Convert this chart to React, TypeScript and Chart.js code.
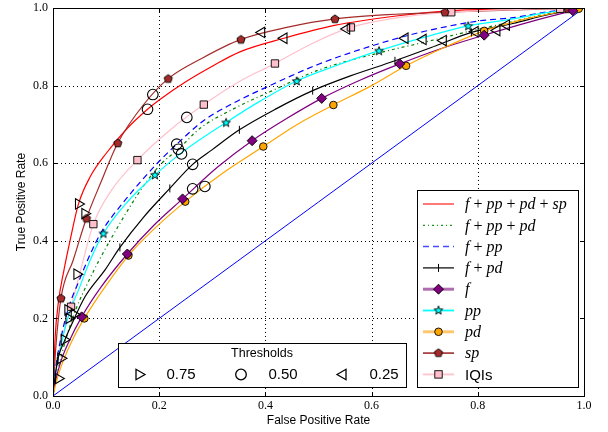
import React, { useEffect, useRef } from 'react';
import { Chart, registerables } from 'chart.js';
Chart.register(...registerables);

// ---- ROC curves (False Positive Rate, True Positive Rate) ----
const fppdspX = [0, 0.004, 0.01, 0.02, 0.032, 0.048, 0.07, 0.1, 0.14, 0.178, 0.2, 0.25, 0.3, 0.352, 0.435, 0.53, 0.65, 0.75, 0.85, 1];
const fppdspY = [0, 0.15, 0.24, 0.32, 0.4, 0.495, 0.565, 0.625, 0.69, 0.739, 0.763, 0.81, 0.85, 0.887, 0.922, 0.955, 0.98, 0.993, 0.998, 1];

const fppdX = [0, 0.01, 0.025, 0.045, 0.065, 0.085, 0.107, 0.145, 0.175, 0.205, 0.236, 0.277, 0.34, 0.41, 0.5, 0.616, 0.7, 0.8, 0.866, 0.93, 1];
const fppdY = [0, 0.07, 0.15, 0.23, 0.29, 0.345, 0.4, 0.488, 0.55, 0.6, 0.636, 0.69, 0.74, 0.785, 0.84, 0.885, 0.912, 0.945, 0.965, 0.985, 1];

const fppX = [0, 0.005, 0.015, 0.03, 0.05, 0.07, 0.09, 0.13, 0.17, 0.2, 0.233, 0.284, 0.34, 0.402, 0.5, 0.616, 0.7, 0.804, 0.866, 0.93, 1];
const fppY = [0, 0.07, 0.15, 0.23, 0.3, 0.365, 0.42, 0.495, 0.56, 0.605, 0.649, 0.71, 0.755, 0.796, 0.855, 0.909, 0.94, 0.967, 0.975, 0.99, 1];

const fpdX = [0, 0.004, 0.01, 0.021, 0.032, 0.06, 0.098, 0.126, 0.17, 0.22, 0.263, 0.3, 0.351, 0.42, 0.489, 0.56, 0.644, 0.72, 0.788, 0.866, 0.93, 1];
const fpdY = [0, 0.05, 0.1, 0.14, 0.175, 0.255, 0.325, 0.383, 0.46, 0.535, 0.597, 0.635, 0.686, 0.74, 0.787, 0.825, 0.864, 0.902, 0.937, 0.96, 0.982, 1];

const fX = [0, 0.005, 0.015, 0.03, 0.054, 0.09, 0.14, 0.19, 0.244, 0.31, 0.375, 0.44, 0.506, 0.58, 0.653, 0.73, 0.812, 0.9, 0.979, 1];
const fY = [0, 0.04, 0.09, 0.14, 0.204, 0.28, 0.366, 0.44, 0.508, 0.59, 0.658, 0.715, 0.767, 0.815, 0.856, 0.895, 0.93, 0.965, 0.993, 1];

const ppX = [0, 0.005, 0.015, 0.03, 0.05, 0.07, 0.095, 0.14, 0.192, 0.25, 0.326, 0.39, 0.459, 0.53, 0.614, 0.7, 0.782, 0.866, 0.93, 1];
const ppY = [0, 0.06, 0.13, 0.21, 0.28, 0.35, 0.419, 0.5, 0.57, 0.635, 0.705, 0.76, 0.812, 0.85, 0.89, 0.925, 0.954, 0.972, 0.988, 1];

const pdX = [0, 0.005, 0.015, 0.035, 0.059, 0.1, 0.142, 0.19, 0.249, 0.32, 0.396, 0.46, 0.528, 0.6, 0.665, 0.74, 0.812, 0.9, 0.99, 1];
const pdY = [0, 0.03, 0.075, 0.14, 0.2, 0.285, 0.362, 0.43, 0.501, 0.575, 0.643, 0.7, 0.75, 0.8, 0.851, 0.9, 0.941, 0.975, 0.998, 1];

const spX = [0, 0.005, 0.015, 0.038, 0.063, 0.09, 0.122, 0.17, 0.217, 0.28, 0.354, 0.44, 0.531, 0.63, 0.738, 0.87, 1];
const spY = [0, 0.12, 0.252, 0.35, 0.458, 0.55, 0.652, 0.75, 0.818, 0.87, 0.919, 0.95, 0.972, 0.983, 0.989, 0.995, 1];

const iqiX = [0, 0.008, 0.02, 0.034, 0.055, 0.076, 0.11, 0.159, 0.22, 0.284, 0.35, 0.418, 0.49, 0.561, 0.65, 0.75, 0.87, 1];
const iqiY = [0, 0.09, 0.165, 0.23, 0.34, 0.443, 0.53, 0.608, 0.685, 0.751, 0.81, 0.857, 0.91, 0.95, 0.975, 0.989, 0.996, 1];

// ---- marker positions along each curve ----
const fpdMarkX = [0.008, 0.126, 0.22, 0.351, 0.489, 0.644, 0.788];
const fpdMarkY = [0.09, 0.383, 0.535, 0.686, 0.787, 0.864, 0.937];
const fMarkX = [0.054, 0.14, 0.244, 0.375, 0.506, 0.653, 0.812, 0.979];
const fMarkY = [0.204, 0.366, 0.508, 0.658, 0.767, 0.856, 0.93, 0.993];
const ppMarkX = [0.095, 0.192, 0.326, 0.459, 0.614, 0.782];
const ppMarkY = [0.419, 0.57, 0.705, 0.812, 0.89, 0.954];
const pdMarkX = [0.059, 0.142, 0.249, 0.396, 0.528, 0.665, 0.812, 0.99];
const pdMarkY = [0.2, 0.362, 0.501, 0.643, 0.75, 0.851, 0.941, 0.998];
const spMarkX = [0.015, 0.063, 0.122, 0.217, 0.354, 0.531, 0.738, 0.97];
const spMarkY = [0.252, 0.458, 0.652, 0.818, 0.919, 0.972, 0.989, 0.998];
const iqiMarkX = [0.034, 0.076, 0.159, 0.284, 0.418, 0.561, 0.75, 0.955];
const iqiMarkY = [0.23, 0.443, 0.608, 0.751, 0.857, 0.95, 0.989, 0.998];

// ---- threshold operating points (order: f+pp+pd+sp, f+pp+pd, f+pp, f+pd, f, pp, pd, sp, IQIs) ----
const thr75X = [0.048, 0.04, 0.028, 0.021, 0.015, 0.03, 0.01, 0.06, 0.045];
const thr75Y = [0.495, 0.21, 0.222, 0.145, 0.097, 0.2, 0.045, 0.47, 0.314];
const thr50X = [0.178, 0.236, 0.233, 0.263, 0.263, 0.242, 0.286, 0.188, 0.252];
const thr50Y = [0.739, 0.636, 0.649, 0.597, 0.534, 0.624, 0.54, 0.777, 0.718];
const thr25X = [0.435, 0.735, 0.663, 0.795, 0.836, 0.697, 0.854, 0.393, 0.553];
const thr25Y = [0.922, 0.916, 0.922, 0.939, 0.942, 0.919, 0.956, 0.937, 0.946];

const diagX = [0, 1];
const diagY = [0, 1];

const axisTicks = [0, 0.2, 0.4, 0.6, 0.8, 1.0];
const thresholdLabels = ['0.75', '0.50', '0.25'];

const pts = (xs: number[], ys: number[]) => xs.map((x, i) => ({ x, y: ys[i] }));

function makeMarker(kind: 'pentagon' | 'star', fill: string) {
  const c = document.createElement('canvas');
  c.width = 12; c.height = 12;
  const g = c.getContext('2d')!;
  g.beginPath();
  if (kind === 'pentagon') {
    for (let i = 0; i < 5; i++) {
      const a = -Math.PI / 2 + i * 2 * Math.PI / 5;
      const px = 6 + Math.cos(a) * 4.3, py = 6.3 + Math.sin(a) * 4.3;
      i ? g.lineTo(px, py) : g.moveTo(px, py);
    }
  } else {
    for (let i = 0; i < 10; i++) {
      const a = -Math.PI / 2 + i * Math.PI / 5;
      const r = i % 2 ? 1.9 : 4.6;
      const px = 6 + Math.cos(a) * r, py = 6.4 + Math.sin(a) * r;
      i ? g.lineTo(px, py) : g.moveTo(px, py);
    }
  }
  g.closePath();
  g.fillStyle = fill; g.fill();
  g.strokeStyle = '#000'; g.lineWidth = 0.9; g.stroke();
  return c;
}

export default function App() {
  const ref = useRef<HTMLCanvasElement>(null);
  useEffect(() => {
    const canvas = ref.current!;
    const pent = makeMarker('pentagon', '#a52a2a');
    const star = makeMarker('star', '#00ffff');

    const line = (xs: number[], ys: number[], color: string, extra: any = {}) => ({
      data: pts(xs, ys), showLine: true, borderColor: color, borderWidth: 1.2,
      pointRadius: 0, cubicInterpolationMode: 'monotone', order: 5, ...extra,
    });
    const marks = (xs: number[], ys: number[], style: any, fill: string, radius: number, extra: any = {}) => ({
      data: pts(xs, ys), showLine: false, pointStyle: style, pointRadius: radius,
      pointBackgroundColor: fill, pointBorderColor: '#000', pointBorderWidth: 0.9, order: 3, ...extra,
    });
    const hollow = (xs: number[], ys: number[], style: string, rot: number, r: number) => ({
      data: pts(xs, ys), showLine: false, pointStyle: style, pointRotation: rot, pointRadius: r,
      pointBackgroundColor: 'rgba(0,0,0,0)', pointBorderColor: '#000', pointBorderWidth: 1.1, order: 1,
    });

    const datasets: any[] = [
      line(diagX, diagY, '#0000ff', { borderWidth: 1, cubicInterpolationMode: 'default', order: 9 }),
      line(pdX, pdY, '#ffa500'),
      line(fX, fY, '#800080'),
      line(fpdX, fpdY, '#000000'),
      line(ppX, ppY, '#00ffff'),
      line(fppdX, fppdY, '#008000', { borderDash: [3, 3, 1, 3] }),
      line(fppX, fppY, '#0000ff', { borderDash: [6, 4] }),
      line(iqiX, iqiY, '#ffc0cb'),
      line(spX, spY, '#a52a2a'),
      line(fppdspX, fppdspY, '#ff0000'),
      marks(fpdMarkX, fpdMarkY, 'line', '#000', 4, { pointRotation: 90, pointBorderWidth: 1 }),
      marks(fMarkX, fMarkY, 'rectRot', '#800080', 5),
      marks(ppMarkX, ppMarkY, star, '#00ffff', 5),
      marks(pdMarkX, pdMarkY, 'circle', '#ffa500', 3.8),
      marks(spMarkX, spMarkY, pent, '#a52a2a', 5),
      marks(iqiMarkX, iqiMarkY, 'rect', '#ffc0cb', 5.2),
      hollow(thr75X, thr75Y, 'triangle', 90, 6),
      hollow(thr50X, thr50Y, 'circle', 0, 5.3),
      hollow(thr25X, thr25Y, 'triangle', -90, 6),
    ];

    const legendItems: any[] = [
      { color: '#ff3030', width: 1.3, label: [['f', 1], [' + ', 0], ['pp', 1], [' + ', 0], ['pd', 1], [' + ', 0], ['sp', 1]] },
      { color: '#1a9a1a', width: 1.3, dash: [2, 3, 1, 3], label: [['f', 1], [' + ', 0], ['pp', 1], [' + ', 0], ['pd', 1]] },
      { color: '#4a4aff', width: 1.5, dash: [6, 4], label: [['f', 1], [' + ', 0], ['pp', 1]] },
      { color: '#000', width: 1.2, marker: 'vline', label: [['f', 1], [' + ', 0], ['pd', 1]] },
      { color: '#b06cb0', width: 3, marker: 'diamond', label: [['f', 1]] },
      { color: '#00ffff', width: 1.8, marker: 'star', label: [['pp', 1]] },
      { color: '#ffc870', width: 3, marker: 'circle', label: [['pd', 1]] },
      { color: '#a84444', width: 1.8, marker: 'pent', label: [['sp', 1]] },
      { color: '#ffc8d0', width: 2, marker: 'square', label: [['IQIs', 2]] },
    ];

    const drawMark = (ctx: CanvasRenderingContext2D, kind: string, x: number, y: number) => {
      ctx.save();
      ctx.strokeStyle = '#000'; ctx.lineWidth = 0.9; ctx.setLineDash([]);
      if (kind === 'vline') {
        ctx.lineWidth = 1; ctx.beginPath(); ctx.moveTo(x, y - 4); ctx.lineTo(x, y + 4); ctx.stroke();
      } else if (kind === 'diamond') {
        ctx.beginPath(); ctx.moveTo(x, y - 5); ctx.lineTo(x + 5, y); ctx.lineTo(x, y + 5); ctx.lineTo(x - 5, y); ctx.closePath();
        ctx.fillStyle = '#800080'; ctx.fill(); ctx.stroke();
      } else if (kind === 'circle') {
        ctx.beginPath(); ctx.arc(x, y, 3.8, 0, Math.PI * 2); ctx.fillStyle = '#ffa500'; ctx.fill(); ctx.stroke();
      } else if (kind === 'square') {
        ctx.fillStyle = '#ffc0cb'; ctx.fillRect(x - 3.7, y - 3.7, 7.4, 7.4); ctx.strokeRect(x - 3.7, y - 3.7, 7.4, 7.4);
      } else if (kind === 'star') {
        ctx.drawImage(star, x - 6, y - 6.4);
      } else if (kind === 'pent') {
        ctx.drawImage(pent, x - 6, y - 6.3);
      } else if (kind === 'tri75' || kind === 'tri25') {
        const dir = kind === 'tri75' ? 1 : -1;
        ctx.lineWidth = 1.3;
        ctx.beginPath(); ctx.moveTo(x + dir * 6, y); ctx.lineTo(x - dir * 3, y - 5.2); ctx.lineTo(x - dir * 3, y + 5.2); ctx.closePath(); ctx.stroke();
      } else if (kind === 'ring') {
        ctx.lineWidth = 1.3;
        ctx.beginPath(); ctx.arc(x, y, 5.3, 0, Math.PI * 2); ctx.stroke();
      }
      ctx.restore();
    };

    const plugin = {
      id: 'decor',
      beforeDatasetsDraw(chart: any) {
        const { ctx, chartArea: a, scales } = chart;
        const xs = scales.x, ys = scales.y;
        ctx.save();
        ctx.strokeStyle = '#000'; ctx.lineWidth = 1; ctx.setLineDash([1, 3]);
        axisTicks.slice(1, -1).forEach((t) => {
          const px = Math.round(xs.getPixelForValue(t)) + 0.5;
          ctx.beginPath(); ctx.moveTo(px, a.top); ctx.lineTo(px, a.bottom); ctx.stroke();
          const py = Math.round(ys.getPixelForValue(t)) + 0.5;
          ctx.beginPath(); ctx.moveTo(a.left, py); ctx.lineTo(a.right, py); ctx.stroke();
        });
        ctx.restore();
      },
      afterDatasetsDraw(chart: any) {
        const { ctx, chartArea: a, scales } = chart;
        const xs = scales.x, ys = scales.y;
        ctx.save();
        ctx.strokeStyle = '#000'; ctx.lineWidth = 1; ctx.setLineDash([]);
        ctx.strokeRect(Math.round(a.left) + 0.5, Math.round(a.top) + 0.5, Math.round(a.right - a.left), Math.round(a.bottom - a.top));
        axisTicks.forEach((t) => {
          const px = Math.round(xs.getPixelForValue(t)) + 0.5;
          const py = Math.round(ys.getPixelForValue(t)) + 0.5;
          ctx.beginPath();
          ctx.moveTo(px, a.bottom); ctx.lineTo(px, a.bottom - 4);
          ctx.moveTo(px, a.top); ctx.lineTo(px, a.top + 4);
          ctx.moveTo(a.left, py); ctx.lineTo(a.left + 4, py);
          ctx.moveTo(a.right, py); ctx.lineTo(a.right - 4, py);
          ctx.stroke();
        });
        // axis titles
        ctx.fillStyle = '#000';
        ctx.font = '12px "Liberation Sans", Arial, sans-serif';
        ctx.textAlign = 'center'; ctx.textBaseline = 'middle';
        ctx.fillText('False Positive Rate', (a.left + a.right) / 2, 421);
        ctx.save();
        ctx.translate(22, (a.top + a.bottom) / 2);
        ctx.rotate(-Math.PI / 2);
        ctx.fillText('True Positive Rate', 0, 0);
        ctx.restore();
        ctx.restore();
      },
      afterDraw(chart: any) {
        const ctx: CanvasRenderingContext2D = chart.ctx;
        ctx.save();
        // main legend
        ctx.fillStyle = '#fff'; ctx.fillRect(417, 190, 162, 198);
        ctx.strokeStyle = '#000'; ctx.lineWidth = 1; ctx.setLineDash([]);
        ctx.strokeRect(417.5, 190.5, 161, 197);
        legendItems.forEach((it, i) => {
          const y = 204 + i * 21.3;
          ctx.save();
          ctx.strokeStyle = it.color; ctx.lineWidth = it.width; ctx.setLineDash(it.dash || []);
          ctx.beginPath(); ctx.moveTo(423, y); ctx.lineTo(454, y); ctx.stroke();
          ctx.restore();
          if (it.marker) drawMark(ctx, it.marker, 438.5, y);
          let x = 465;
          ctx.fillStyle = '#000'; ctx.textAlign = 'left'; ctx.textBaseline = 'middle';
          it.label.forEach(([s, kind]: [string, number]) => {
            ctx.font = kind === 1 ? 'italic 16px "Liberation Serif", serif'
              : kind === 2 ? '15px "Liberation Sans", Arial, sans-serif'
              : '16px "Liberation Serif", serif';
            ctx.fillText(s, x, y + 1);
            x += ctx.measureText(s).width;
          });
        });
        // threshold legend
        ctx.fillStyle = '#fff'; ctx.fillRect(118, 343, 289, 45);
        ctx.strokeStyle = '#000'; ctx.strokeRect(118.5, 343.5, 288, 44);
        ctx.fillStyle = '#000'; ctx.textAlign = 'center'; ctx.textBaseline = 'middle';
        ctx.font = '12.5px "Liberation Sans", Arial, sans-serif';
        ctx.fillText('Thresholds', 262, 354);
        const kinds = ['tri75', 'ring', 'tri25'];
        const mx = [139, 241, 343];
        const lx = [181, 283, 384];
        ctx.font = '15px "Liberation Sans", Arial, sans-serif';
        kinds.forEach((k, i) => {
          drawMark(ctx, k, mx[i], 374.5);
          ctx.fillStyle = '#000';
          ctx.fillText(thresholdLabels[i], lx[i], 374.5);
        });
        ctx.restore();
      },
    };

    const tickFont = { family: '"Liberation Serif", serif', size: 12 };
    const chart = new Chart(canvas, {
      type: 'scatter',
      data: { datasets },
      options: {
        animation: false,
        responsive: false,
        devicePixelRatio: 1,
        events: [],
        layout: { padding: { left: 0, top: 8, right: 24, bottom: 0 }, autoPadding: false },
        plugins: { legend: { display: false }, tooltip: { enabled: false } },
        scales: {
          x: {
            type: 'linear', min: 0, max: 1,
            afterFit: (s: any) => { s.height = 36; s.paddingLeft = 0; s.paddingRight = 0; s.paddingTop = 0; s.paddingBottom = 0; },
            grid: { display: false, drawTicks: false }, border: { display: false },
            ticks: { stepSize: 0.2, font: tickFont, color: '#000', padding: 3, maxRotation: 0, autoSkip: false,
              callback: (v: any) => Number(v).toFixed(1) },
          },
          y: {
            type: 'linear', min: 0, max: 1,
            afterFit: (s: any) => { s.width = 53; s.paddingLeft = 0; s.paddingRight = 0; s.paddingTop = 0; s.paddingBottom = 0; },
            grid: { display: false, drawTicks: false }, border: { display: false },
            ticks: { stepSize: 0.2, font: tickFont, color: '#000', padding: 5, autoSkip: false,
              callback: (v: any) => Number(v).toFixed(1) },
          },
        },
      } as any,
      plugins: [plugin],
    });
    return () => chart.destroy();
  }, []);

  return (
    <div style={{ position: 'fixed', left: 0, top: 0, width: 608, height: 432, background: '#fff' }}>
      <canvas ref={ref} width={608} height={432} style={{ width: 608, height: 432, display: 'block' }} />
    </div>
  );
}
